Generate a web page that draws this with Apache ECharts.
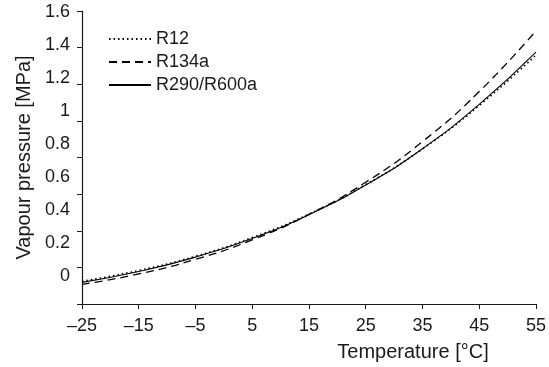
<!DOCTYPE html>
<html>
<head>
<meta charset="utf-8">
<script src="https://cdn.jsdelivr.net/npm/echarts@6/dist/echarts.min.js"></script>
<style>
  html, body { margin: 0; padding: 0; background: #fff; }
  #chart { width: 549px; height: 367px; }
</style>
</head>
<body>
<div id="chart"></div>
<script>
// temperatures in °C
const temperatures = [-25, -15, -5, 5, 15, 25, 35, 45, 55]
// vapour pressure in MPa
const r12 = [0.124, 0.183, 0.261, 0.363, 0.491, 0.652, 0.847, 1.084, 1.360]
const r134a = [0.107, 0.164, 0.244, 0.350, 0.489, 0.665, 0.887, 1.160, 1.492]
const r290r600a = [0.118, 0.177, 0.256, 0.358, 0.488, 0.650, 0.848, 1.090, 1.375]
const yTickLabels = [0, 0.2, 0.4, 0.6, 0.8, 1, 1.2, 1.4, 1.6]

const pairs = (vals) => temperatures.map((t, i) => [t, vals[i]])
const font = 'Liberation Sans, Arial, sans-serif'
const ink = '#1a1a1a'

const chart = echarts.init(document.getElementById('chart'), null, { renderer: 'canvas' })
chart.setOption({
  animation: false,
  textStyle: { fontFamily: font, color: ink },
  grid: { left: 82, right: 12, top: 11, bottom: 62 },
  legend: {
    orient: 'vertical',
    left: 103,
    top: 25,
    itemWidth: 42,
    itemHeight: 10,
    itemGap: 5,
    itemStyle: { opacity: 0 },
    textStyle: { fontSize: 18, color: ink, fontFamily: font },
    data: ['R12', 'R134a', 'R290/R600a']
  },
  xAxis: {
    type: 'value',
    min: -25,
    max: 55,
    interval: 10,
    name: 'Temperature [°C]',
    nameLocation: 'middle',
    nameGap: 38,
    nameTextStyle: { fontSize: 20, color: ink, fontFamily: font, padding: [0, 0, 0, 208] },
    axisLine: { onZero: false, lineStyle: { color: ink, width: 1.2 } },
    axisTick: { length: 5, lineStyle: { color: ink } },
    axisLabel: {
      fontSize: 18,
      color: ink,
      margin: 13,
      formatter: (v) => String(v).replace('-', '\u2013')
    },
    splitLine: { show: false }
  },
  yAxis: [
    {
      type: 'value',
      min: 0,
      max: 1.6,
      interval: 0.2,
      name: 'Vapour pressure [MPa]',
      nameLocation: 'middle',
      nameGap: 48,
      nameTextStyle: { fontSize: 20, color: ink, fontFamily: font },
      axisLine: { show: true, onZero: false, lineStyle: { color: ink, width: 1.2 } },
      axisTick: { show: true, length: 5, lineStyle: { color: ink } },
      axisLabel: { show: false },
      splitLine: { show: false }
    },
    {
      // label-only axis, the scanned figure has its labels slightly off the ticks
      type: 'value',
      position: 'left',
      min: -0.17,
      max: 1.605,
      axisLine: { show: false, onZero: false },
      axisTick: { show: false },
      splitLine: { show: false },
      axisLabel: {
        fontSize: 18,
        color: ink,
        margin: 12,
        customValues: yTickLabels,
        formatter: (v) => String(Math.round(v * 10) / 10)
      }
    }
  ],
  series: [
    {
      name: 'R12',
      type: 'line',
      smooth: true,
      symbol: 'none',
      data: pairs(r12),
      lineStyle: { color: '#000', width: 1.6, type: [1.5, 3] },
      itemStyle: { color: '#000' }
    },
    {
      name: 'R134a',
      type: 'line',
      smooth: true,
      symbol: 'none',
      data: pairs(r134a),
      lineStyle: { color: '#000', width: 1.3, type: [8, 5] },
      itemStyle: { color: '#000' }
    },
    {
      name: 'R290/R600a',
      type: 'line',
      smooth: true,
      symbol: 'none',
      data: pairs(r290r600a),
      lineStyle: { color: '#000', width: 1.1, type: 'solid' },
      itemStyle: { color: '#000' }
    }
  ]
})
</script>
</body>
</html>
